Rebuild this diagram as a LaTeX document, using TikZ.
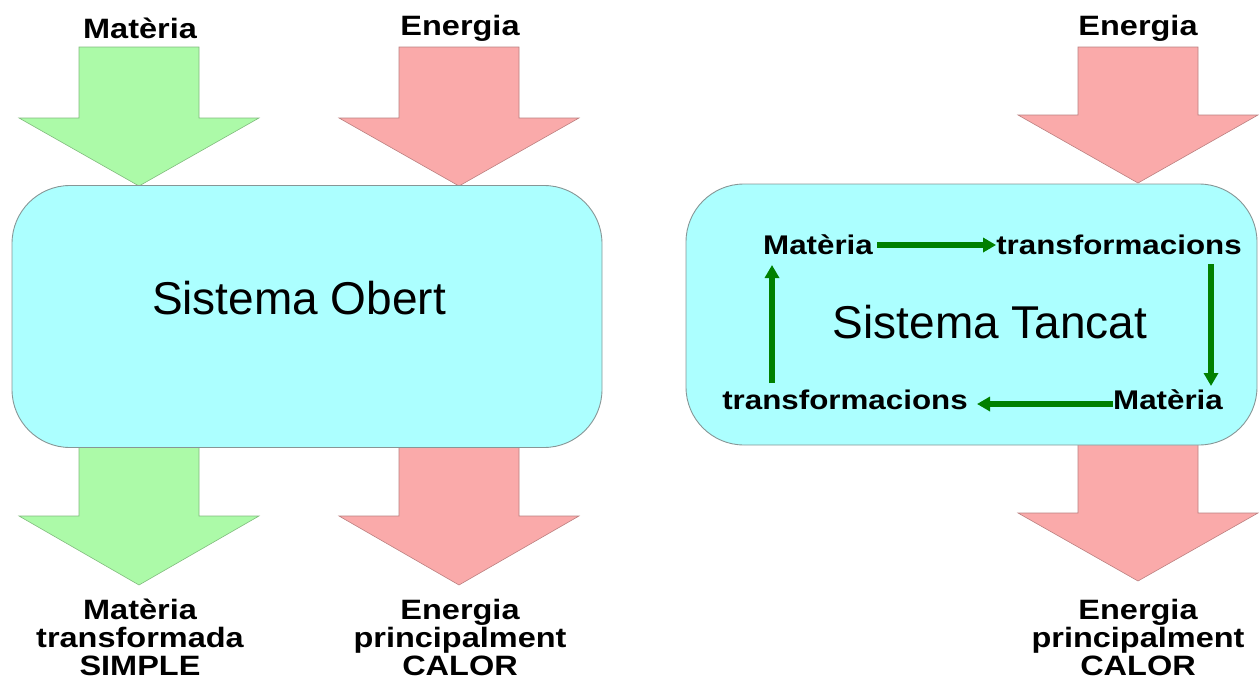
\documentclass[tikz,border=0pt]{standalone}
\usepackage{fontspec}
\setmainfont{Liberation Sans}
\newfontfamily\lblfont{Liberation Sans}[FakeStretch=1.16]
\usetikzlibrary{arrows.meta}
\definecolor{mgreen}{RGB}{172,250,168}
\definecolor{mred}{RGB}{250,170,170}
\definecolor{mcyan}{RGB}{172,255,255}
\definecolor{dgreen}{RGB}{0,128,0}
\definecolor{boxline}{RGB}{135,150,150}
\tikzset{
  bigarrow/.style={fill=#1, draw=#1!75!black, line width=0.6pt},
  sysbox/.style={draw=boxline, fill=mcyan, line width=0.9pt, rounded corners=58pt},
  lbl/.style={font=\lblfont\bfseries\fontsize{28}{28}\selectfont, align=center, inner sep=0pt},
  inlbl/.style={font=\lblfont\bfseries\fontsize{27}{28}\selectfont, inner sep=0pt},
  title/.style={font=\fontsize{46}{50}\selectfont, inner sep=0pt},
  cyc/.style={draw=dgreen, line width=6pt, -{Triangle[length=13pt,width=14pt]}}
}
\newcommand\mybigarrow[5]{%
  \path[bigarrow=#1] ({#2-60},#3) -- ({#2+60},#3) -- ({#2+60},#4) -- ({#2+120},#4)
    -- (#2,#5) -- ({#2-120},#4) -- ({#2-60},#4) -- cycle;}
\begin{document}
\begin{tikzpicture}[x=1pt,y=-1pt]
\useasboundingbox (0,0) rectangle (1259,688);
% arrows (behind boxes)
\mybigarrow{mgreen}{139}{47}{118}{186}
\mybigarrow{mred}{459}{47}{118}{186}
\mybigarrow{mgreen}{139}{420}{516}{585}
\mybigarrow{mred}{459}{420}{516}{585}
\mybigarrow{mred}{1138}{47}{115}{183}
\mybigarrow{mred}{1138}{420}{513}{581}
% boxes
\node[sysbox, minimum width=590pt, minimum height=262pt, inner sep=0pt] (obert) at (307,316.5) {};
\node[sysbox, minimum width=571pt, minimum height=261pt, inner sep=0pt] (tancat) at (971.5,314.5) {};
\node[title] (tobert) at (299,298) {Sistema Obert};
\node[title] (ttancat) at (990,322) {Sistema Tancat};
% labels
\node[lbl] (mat) at (140,28) {Matèria};
\node[lbl] (en1) at (460,28) {Energia};
\node[lbl] (en2) at (1138,28) {Energia};
\node[lbl] (mout) at (140,637) {Matèria\\transformada\\SIMPLE};
\node[lbl] (eout1) at (460,637) {Energia\\principalment\\CALOR};
\node[lbl] (eout2) at (1138,637) {Energia\\principalment\\CALOR};
% cycle inside closed system
\node[inlbl] (m1) at (818,245) {Matèria};
\node[inlbl] (t1) at (1119,245) {transformacions};
\node[inlbl] (m2) at (1168,400) {Matèria};
\node[inlbl] (t2) at (845,400) {transformacions};
\draw[cyc] (m1.east) ++(4pt,0) coordinate (a1) -- (t1.west |- a1);
\draw[cyc] (1211,264) coordinate (b1) -- (1211,386) coordinate (b2);
\draw[cyc] (1113,404) coordinate (c1) -- (977,404) coordinate (c2);
\draw[cyc] (772,383) coordinate (d1) -- (772,265) coordinate (d2);
\end{tikzpicture}
\end{document}
